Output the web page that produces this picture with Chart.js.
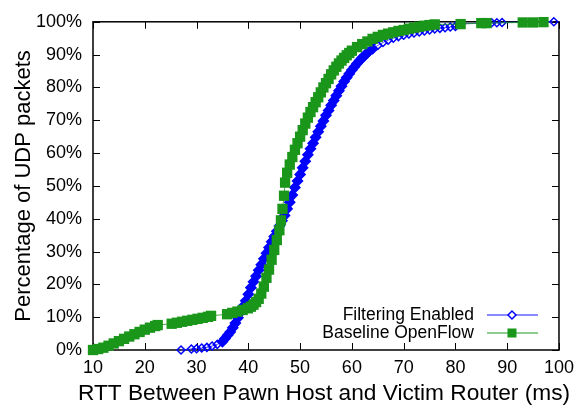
<!DOCTYPE html>
<html>
<head>
<meta charset="utf-8">
<script src="https://cdn.jsdelivr.net/npm/chart.js@4.4.1/dist/chart.umd.min.js"></script>
<style>
  html, body { margin: 0; padding: 0; background: #fff; }
</style>
</head>
<body>
<canvas id="c" width="581" height="408"></canvas>
<script>
// RTT (ms) and cumulative percentage
const blueX = [27, 29, 30, 31, 32, 33, 34, 35, 35.5, 36, 36.5, 37, 37.5, 38, 38.5, 39, 39.5, 40, 40.5, 41,
  41.5, 42, 42.5, 43, 43.5, 44, 44.5, 45, 45.5, 46, 46.5, 47, 47.5, 48, 48.5, 49, 49.5, 50, 50.5, 51,
  51.5, 52, 52.5, 53, 53.5, 54, 54.5, 55, 55.5, 56, 56.5, 57, 57.5, 58, 58.5, 59, 59.5, 60, 60.5, 61,
  61.5, 62, 62.5, 63, 64, 65, 66, 67, 68, 69, 70, 71, 72, 73, 74, 75, 76, 77, 78, 79, 80, 81, 87, 88, 89, 99];
const blueY = [0, 0.3, 0.4, 0.6, 0.8, 1.2, 1.7, 2.5, 3.5, 4.5, 5.5, 6.8, 8.2, 9.8, 11.5, 13.3, 15, 17, 19, 20.8,
  22.5, 24.3, 26, 27.8, 29.5, 31.2, 33, 34.6, 36.2, 37.8, 39.4, 41, 43, 45, 47.2, 49.5, 51.5, 53.5, 55.5, 57.5,
  59.5, 61.3, 63, 64.8, 66.5, 68.2, 69.8, 71.5, 73, 74.6, 76, 77.5, 79, 80.4, 81.8, 83, 84.2, 85.3, 86.3, 87.3,
  88.2, 89, 89.8, 90.5, 91.8, 92.8, 93.7, 94.4, 95, 95.5, 95.9, 96.3, 96.6, 96.9, 97.2, 97.5, 97.8, 98, 98.2, 98.4, 98.6, 99.4, 99.7, 99.7, 99.8, 100];

const greenX = [10, 11, 12, 13, 14, 15, 16, 17, 18, 19, 20, 21, 22, 22.5, 25.2, 26.2, 27.2, 28.2, 29.2, 30.2,
  31.2, 32.2, 32.8, 35.9, 36.9, 37.9, 38.9, 39.9, 40.5, 41, 41.5, 42, 42.5, 43, 43.5, 44, 44.5, 45, 45.5, 46,
  46.3, 46.6, 46.9, 47.1, 47.5, 48, 48.5, 49, 49.5, 50, 50.5, 51, 51.5, 52, 52.5, 53, 53.5, 54, 54.5, 55,
  55.5, 56, 56.5, 57, 57.5, 58, 58.5, 59, 59.5, 60, 61, 62, 63, 64, 65, 66, 67, 68, 69, 70, 71, 72, 73, 74,
  75, 76, 81, 85, 86, 93, 95, 97];
const greenY = [0, 0.3, 0.7, 1.3, 2, 2.7, 3.4, 4.1, 4.8, 5.5, 6.2, 6.8, 7.3, 7.6, 8, 8.3, 8.6, 8.9, 9.2, 9.5,
  9.8, 10.1, 10.4, 10.9, 11.3, 11.7, 12.2, 12.7, 13.2, 13.8, 14.6, 15.6, 17.2, 19.3, 22, 24.5, 27.5, 30.5, 33.5, 36.5,
  39.5, 43, 47, 51, 54, 56.5, 58.8, 61, 63, 65, 67, 69, 70.8, 72.5, 74, 75.5, 77, 78.5, 80, 81.3,
  82.6, 84, 85.2, 86.3, 87.3, 88.2, 89, 89.8, 90.5, 91.2, 92.3, 93.2, 94, 94.8, 95.4, 96, 96.4, 96.8, 97.2, 97.5, 97.9, 98.2, 98.5, 98.8,
  99, 99.2, 99.3, 99.6, 99.6, 99.8, 99.8, 99.9];

const xTicks = [10, 20, 30, 40, 50, 60, 70, 80, 90, 100];
const yTicks = [0, 10, 20, 30, 40, 50, 60, 70, 80, 90, 100];
const seriesNames = ['Filtering Enabled', 'Baseline OpenFlow'];
const xTitle = 'RTT Between Pawn Host and Victim Router (ms)';

const FONT = '"Liberation Sans", Arial, Helvetica, sans-serif';
const BLUE = '#0000ff';
const GREEN = '#1a961a';

const toPoints = (xs, ys) => xs.map((x, i) => ({ x: x, y: ys[i] }));

// gnuplot style frame with inward tick marks on all four sides
const framePlugin = {
  id: 'frame',
  beforeDatasetsDraw(chart) {
    const { ctx, chartArea: a, scales: { x, y } } = chart;
    ctx.save();
    ctx.strokeStyle = '#000';
    ctx.lineWidth = 1;
    ctx.beginPath();
    xTicks.forEach(v => {
      const px = Math.round(x.getPixelForValue(v)) + 0.5;
      ctx.moveTo(px, a.bottom); ctx.lineTo(px, a.bottom - 7);
      ctx.moveTo(px, a.top); ctx.lineTo(px, a.top + 7);
    });
    yTicks.forEach(v => {
      const py = Math.round(y.getPixelForValue(v)) + 0.5;
      ctx.moveTo(a.left, py); ctx.lineTo(a.left + 7, py);
      ctx.moveTo(a.right, py); ctx.lineTo(a.right - 7, py);
    });
    ctx.stroke();
    ctx.lineWidth = 1.5;
    ctx.strokeRect(a.left, a.top, a.right - a.left, a.bottom - a.top);

    // x axis title, drawn here so it is not squeezed to the axis width
    ctx.fillStyle = '#000';
    ctx.font = '22.7px ' + FONT;
    ctx.textAlign = 'center';
    ctx.textBaseline = 'alphabetic';
    ctx.fillText(xTitle, (a.left + a.right) / 2 - 2, x.bottom - 8);
    ctx.restore();
  },
  afterDraw(chart) {
    const { ctx, chartArea: a } = chart;
    const rows = [
      { text: seriesNames[0], line: 'rgba(60,60,255,0.8)', color: BLUE, style: 'diamond', y: a.bottom - 35 },
      { text: seriesNames[1], line: 'rgba(40,160,40,0.7)', color: GREEN, style: 'square', y: a.bottom - 17 }
    ];
    ctx.save();
    ctx.font = '17.5px ' + FONT;
    ctx.textAlign = 'right';
    ctx.textBaseline = 'middle';
    rows.forEach(r => {
      ctx.fillStyle = '#000';
      ctx.fillText(r.text, a.right - 85, r.y);
      ctx.strokeStyle = r.line;
      ctx.lineWidth = 1.5;
      ctx.beginPath();
      ctx.moveTo(a.right - 72, r.y); ctx.lineTo(a.right - 21, r.y);
      ctx.stroke();
      const mx = a.right - 47;
      if (r.style === 'diamond') {
        ctx.strokeStyle = r.color;
        ctx.lineWidth = 1.5;
        ctx.beginPath();
        ctx.moveTo(mx - 4, r.y); ctx.lineTo(mx, r.y - 4); ctx.lineTo(mx + 4, r.y); ctx.lineTo(mx, r.y + 4);
        ctx.closePath();
        ctx.fillStyle = '#fff';
        ctx.fill();
        ctx.stroke();
      } else {
        ctx.fillStyle = r.color;
        ctx.fillRect(mx - 4.5, r.y - 4.5, 9, 9);
      }
    });
    ctx.restore();
  }
};

new Chart(document.getElementById('c'), {
  type: 'scatter',
  data: {
    datasets: [
      {
        label: seriesNames[0],
        data: toPoints(blueX, blueY),
        showLine: true,
        borderColor: 'rgba(40,40,255,0.8)',
        borderWidth: 1,
        pointStyle: 'rectRot',
        pointRadius: c => (c.raw && c.raw.y > 2 && c.raw.y < 92) ? 5 : 4,
        pointBorderWidth: 1.5,
        pointBorderColor: BLUE,
        pointBackgroundColor: c => (c.raw && c.raw.y > 2 && c.raw.y < 92) ? BLUE : 'rgba(0,0,0,0)',
        clip: false,
        order: 2
      },
      {
        label: seriesNames[1],
        data: toPoints(greenX, greenY),
        showLine: true,
        borderColor: 'rgba(26,150,26,0.8)',
        borderWidth: 1,
        pointStyle: 'rect',
        pointRadius: 7.3,
        pointBorderWidth: 0,
        pointBackgroundColor: GREEN,
        clip: false,
        order: 1
      }
    ]
  },
  options: {
    responsive: false,
    animation: false,
    layout: { padding: { top: 13, right: 19, left: 0, bottom: 0 } },
    plugins: { legend: { display: false }, tooltip: { enabled: false } },
    scales: {
      x: {
        type: 'linear',
        min: 10, max: 100,
        afterBuildTicks: s => { s.ticks = xTicks.map(v => ({ value: v })); },
        afterFit: s => { s.height = 58; },
        grid: { display: false, drawTicks: false },
        border: { display: false },
        ticks: { color: '#000', font: { family: FONT, size: 18 }, padding: 7, maxRotation: 0 },
        title: { display: false }
      },
      y: {
        type: 'linear',
        min: 0, max: 100,
        afterBuildTicks: s => { s.ticks = yTicks.map(v => ({ value: v })); },
        afterFit: s => { s.width = 93; },
        grid: { display: false, drawTicks: false },
        border: { display: false },
        ticks: { color: '#000', font: { family: FONT, size: 18 }, padding: 11, callback: v => v + '%' },
        title: { display: true, text: 'Percentage of UDP packets', color: '#000',
                 font: { family: FONT, size: 22 }, padding: { top: 11, bottom: 0 } }
      }
    }
  },
  plugins: [framePlugin]
});
</script>
</body>
</html>
